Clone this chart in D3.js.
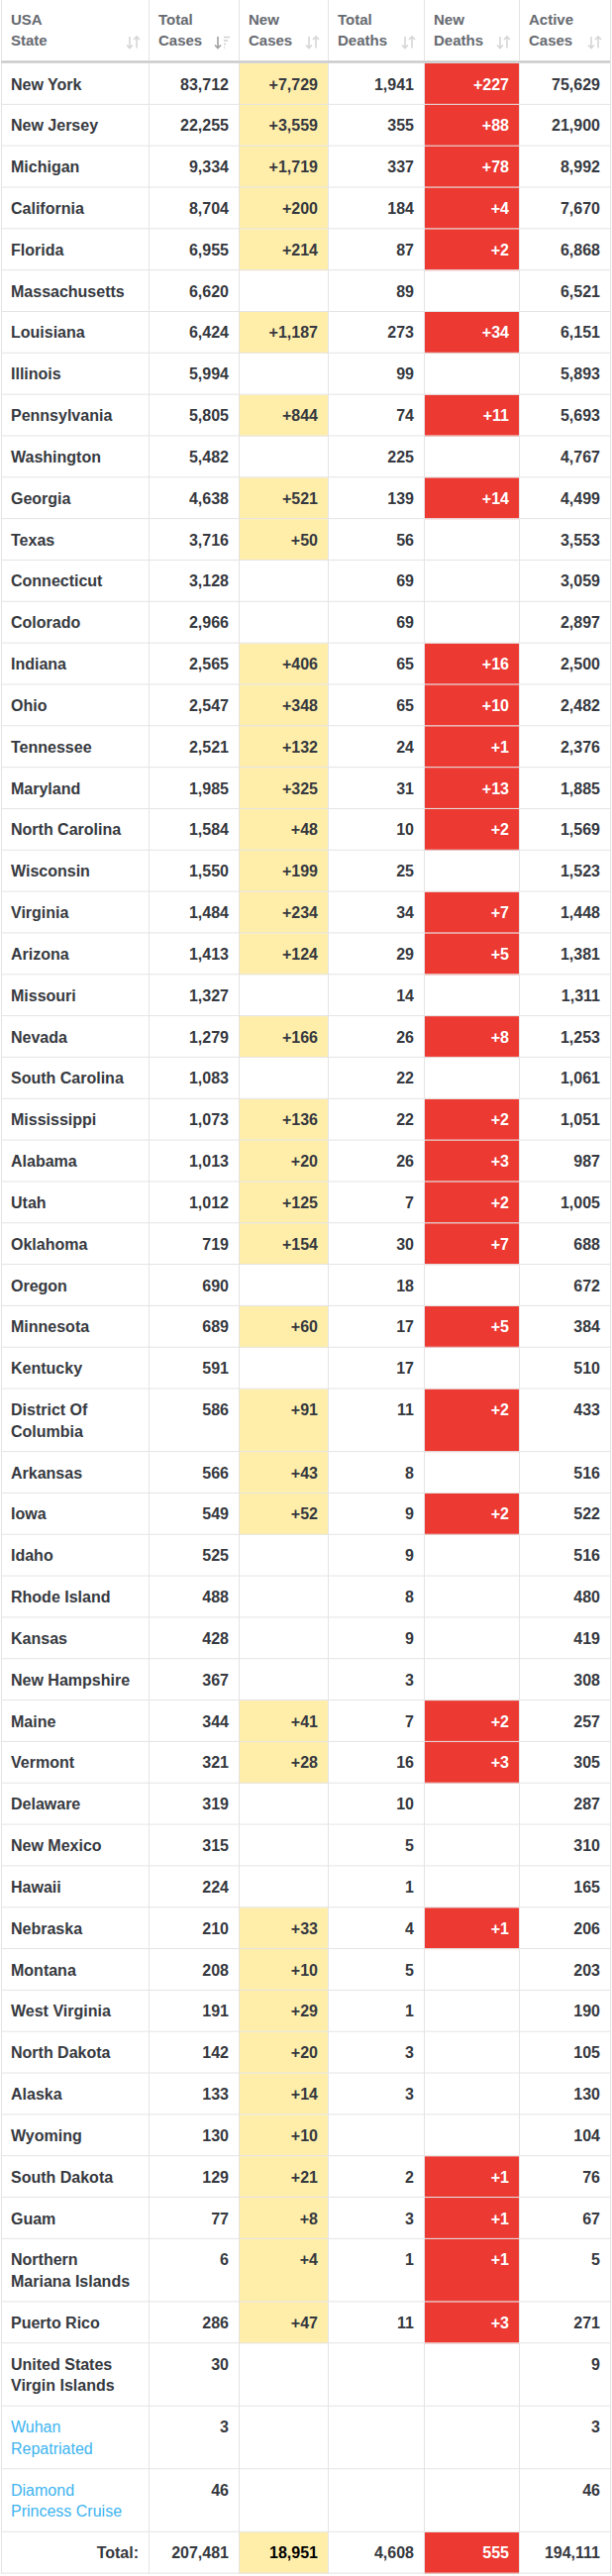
<!DOCTYPE html>
<html>
<head>
<meta charset="utf-8">
<script src="https://cdn.jsdelivr.net/npm/d3@7"></script>
<style>
  body { margin: 0; background: #fff; }
  svg { display: block; }
</style>
</head>
<body>
<svg width="618" height="2601"></svg>
<script>
// 列見出し
const headers = [
    ["USA", "State"],
    ["Total", "Cases"],
    ["New", "Cases"],
    ["Total", "Deaths"],
    ["New", "Deaths"],
    ["Active", "Cases"],
];
const states = [
    "New York", "New Jersey", "Michigan", "California", "Florida",
    "Massachusetts", "Louisiana", "Illinois", "Pennsylvania", "Washington",
    "Georgia", "Texas", "Connecticut", "Colorado", "Indiana",
    "Ohio", "Tennessee", "Maryland", "North Carolina", "Wisconsin",
    "Virginia", "Arizona", "Missouri", "Nevada", "South Carolina",
    "Mississippi", "Alabama", "Utah", "Oklahoma", "Oregon",
    "Minnesota", "Kentucky", "District Of\nColumbia", "Arkansas", "Iowa",
    "Idaho", "Rhode Island", "Kansas", "New Hampshire", "Maine",
    "Vermont", "Delaware", "New Mexico", "Hawaii", "Nebraska",
    "Montana", "West Virginia", "North Dakota", "Alaska", "Wyoming",
    "South Dakota", "Guam", "Northern\nMariana Islands", "Puerto Rico", "United States\nVirgin Islands",
    "Wuhan\nRepatriated", "Diamond\nPrincess Cruise",
];
const linkStates = ["Wuhan\nRepatriated", "Diamond\nPrincess Cruise"];
const totalCases = [
    83712, 22255, 9334, 8704, 6955, 6620, 6424, 5994, 5805, 5482,
    4638, 3716, 3128, 2966, 2565, 2547, 2521, 1985, 1584, 1550,
    1484, 1413, 1327, 1279, 1083, 1073, 1013, 1012, 719, 690,
    689, 591, 586, 566, 549, 525, 488, 428, 367, 344,
    321, 319, 315, 224, 210, 208, 191, 142, 133, 130,
    129, 77, 6, 286, 30, 3, 46,
];
const newCases = [
    7729, 3559, 1719, 200, 214, null, 1187, null, 844, null,
    521, 50, null, null, 406, 348, 132, 325, 48, 199,
    234, 124, null, 166, null, 136, 20, 125, 154, null,
    60, null, 91, 43, 52, null, null, null, null, 41,
    28, null, null, null, 33, 10, 29, 20, 14, 10,
    21, 8, 4, 47, null, null, null,
];
const totalDeaths = [
    1941, 355, 337, 184, 87, 89, 273, 99, 74, 225,
    139, 56, 69, 69, 65, 65, 24, 31, 10, 25,
    34, 29, 14, 26, 22, 22, 26, 7, 30, 18,
    17, 17, 11, 8, 9, 9, 8, 9, 3, 7,
    16, 10, 5, 1, 4, 5, 1, 3, 3, null,
    2, 3, 1, 11, null, null, null,
];
const newDeaths = [
    227, 88, 78, 4, 2, null, 34, null, 11, null,
    14, null, null, null, 16, 10, 1, 13, 2, null,
    7, 5, null, 8, null, 2, 3, 2, 7, null,
    5, null, 2, null, 2, null, null, null, null, 2,
    3, null, null, null, 1, null, null, null, null, null,
    1, 1, 1, 3, null, null, null,
];
const activeCases = [
    75629, 21900, 8992, 7670, 6868, 6521, 6151, 5893, 5693, 4767,
    4499, 3553, 3059, 2897, 2500, 2482, 2376, 1885, 1569, 1523,
    1448, 1381, 1311, 1253, 1061, 1051, 987, 1005, 688, 672,
    384, 510, 433, 516, 522, 516, 480, 419, 308, 257,
    305, 287, 310, 165, 206, 203, 190, 105, 130, 104,
    76, 67, 5, 271, 9, 3, 46,
];
const totals = [207481, 18951, 4608, 555, 194111];

const columns = ["state", "totalCases", "newCases", "totalDeaths", "newDeaths", "activeCases"];
const columnEdges = [1, 150, 241, 331, 428, 524, 616];

const svg = d3.select("svg");
const fontFamily = "'Liberation Sans', Arial, Helvetica, sans-serif";
const textColor = "#363940";
const gridColor = "#e4e4e4";

const xLeft = d3.scaleOrdinal().domain(columns).range(columnEdges.slice(0, -1));
const xRight = d3.scaleOrdinal().domain(columns).range(columnEdges.slice(1));

const headerHeight = 64;
const lineHeight = 21.7;
const singleRow = 41.83;

const rows = states.map((s, i) => ({
    state: s,
    lines: s.split("\n"),
    link: linkStates.includes(s),
    totalCases: totalCases[i],
    newCases: newCases[i],
    totalDeaths: totalDeaths[i],
    newDeaths: newDeaths[i],
    activeCases: activeCases[i],
}));
rows.push({
    state: "Total:",
    lines: ["Total:"],
    isTotal: true,
    totalCases: totals[0],
    newCases: totals[1],
    totalDeaths: totals[2],
    newDeaths: totals[3],
    activeCases: totals[4],
});
rows.forEach(r => { r.h = singleRow + (r.lines.length - 1) * lineHeight; });
const tops = [headerHeight, ...d3.cumsum(rows, r => r.h).map(v => v + headerHeight)];
rows.forEach((r, i) => { r.y = tops[i]; });
const tableBottom = tops[tops.length - 1];

const fmt = d3.format(",");
const fmtPlus = d3.format("+,");

// 背景色 (New Cases / New Deaths)
const body = svg.append("g");
body.selectAll("rect.newcases")
    .data(rows.filter(r => r.newCases != null))
    .join("rect")
    .attr("class", "newcases")
    .attr("x", xLeft("newCases"))
    .attr("y", d => d.y)
    .attr("width", xRight("newCases") - xLeft("newCases"))
    .attr("height", d => d.h)
    .attr("fill", "#ffeeaa");
body.selectAll("rect.newdeaths")
    .data(rows.filter(r => r.newDeaths != null))
    .join("rect")
    .attr("class", "newdeaths")
    .attr("x", xLeft("newDeaths"))
    .attr("y", d => d.y)
    .attr("width", xRight("newDeaths") - xLeft("newDeaths"))
    .attr("height", d => d.h)
    .attr("fill", "#ec3a33");

// 罫線
const grid = svg.append("g");
grid.selectAll("line.h")
    .data(tops.slice(1))
    .join("line")
    .attr("x1", columnEdges[0]).attr("x2", columnEdges[6])
    .attr("y1", d => d - 0.5).attr("y2", d => d - 0.5)
    .attr("stroke", gridColor).attr("stroke-width", 1);
grid.selectAll("line.v")
    .data(columnEdges)
    .join("line")
    .attr("x1", d => d + 0.5).attr("x2", d => d + 0.5)
    .attr("y1", 0).attr("y2", tableBottom)
    .attr("stroke", gridColor).attr("stroke-width", 1);
// ヘッダ下の太線
grid.append("rect")
    .attr("x", columnEdges[0]).attr("y", headerHeight - 3)
    .attr("width", columnEdges[6] - columnEdges[0]).attr("height", 3)
    .attr("fill", "#d9d9d9");
grid.append("rect")
    .attr("x", columnEdges[0]).attr("y", headerHeight - 2)
    .attr("width", columnEdges[6] - columnEdges[0]).attr("height", 1)
    .attr("fill", "#c8c8c8");

// ヘッダ
const head = svg.append("g")
    .attr("font-family", fontFamily)
    .attr("font-size", 15)
    .attr("font-weight", "bold")
    .attr("fill", "#666a70");
headers.forEach((lbl, i) => {
    const c = columns[i];
    const t = head.append("text");
    lbl.forEach((l, j) => {
        t.append("tspan")
            .attr("x", xLeft(c) + 10)
            .attr("y", 24.5 + j * lineHeight)
            .text(l);
    });
    // ソートアイコン
    const ix = xRight(c) - 9;
    const ic = head.append("g")
        .attr("fill", "none")
        .attr("stroke-width", 1.6);
    if (i === 1) {
        ic.append("path")
            .attr("stroke", "#a0a0a0")
            .attr("d", `M${ix - 12},37 V48.5 M${ix - 15},45.5 L${ix - 12},48.5 L${ix - 9},45.5`);
        ic.append("path")
            .attr("stroke", "#cfcfcf")
            .attr("d", `M${ix - 6},37.5 H${ix} M${ix - 6},41 H${ix - 2} M${ix - 6},44.5 H${ix - 4} M${ix - 6},48 H${ix - 5}`);
    } else {
        ic.append("path")
            .attr("stroke", "#d6d6d6")
            .attr("d", `M${ix - 10},37 V48.5 M${ix - 13},45.5 L${ix - 10},48.5 L${ix - 7},45.5`);
        ic.append("path")
            .attr("stroke", "#d6d6d6")
            .attr("d", `M${ix - 3},48.5 V37 M${ix - 6},40 L${ix - 3},37 L${ix},40`);
    }
});

// 本文
const txt = svg.append("g")
    .attr("font-family", fontFamily)
    .attr("font-size", 16)
    .attr("font-weight", "bold");

rows.forEach(r => {
    const base = r.y + 26.5;
    if (r.isTotal) {
        txt.append("text")
            .attr("x", xRight("state") - 10)
            .attr("y", base)
            .attr("text-anchor", "end")
            .attr("fill", textColor)
            .text(r.state);
    } else {
        const t = txt.append("text")
            .attr("fill", r.link ? "#3db4f0" : textColor)
            .attr("font-weight", r.link ? "normal" : "bold");
        r.lines.forEach((l, j) => {
            t.append("tspan")
                .attr("x", xLeft("state") + 10)
                .attr("y", base + j * lineHeight)
                .text(l);
        });
    }
    columns.slice(1).forEach(c => {
        const v = r[c];
        if (v == null) return;
        let color = textColor;
        if (c === "newDeaths") color = "#fff";
        if (c === "newCases" && r.isTotal) color = "#000";
        const isNew = (c === "newCases" || c === "newDeaths") && !r.isTotal;
        txt.append("text")
            .attr("x", xRight(c) - 10)
            .attr("y", base)
            .attr("text-anchor", "end")
            .attr("fill", color)
            .text(isNew ? fmtPlus(v) : fmt(v));
    });
});
</script>
</body>
</html>
